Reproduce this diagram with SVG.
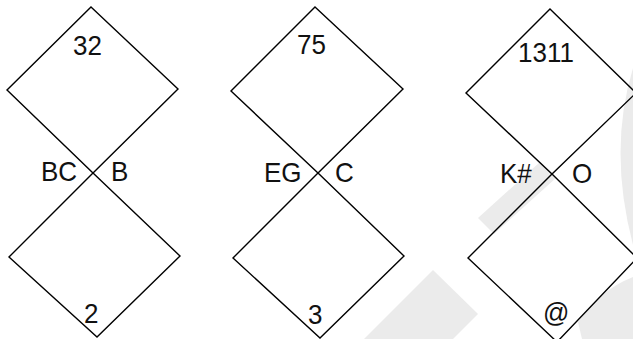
<svg xmlns="http://www.w3.org/2000/svg" width="633" height="339" viewBox="0 0 633 339">
<style>
.d{fill:none;stroke:#000;stroke-width:1.4;stroke-linejoin:miter}
.t{font-family:"Liberation Sans",Arial,sans-serif;font-size:26px;fill:#111}
.w{fill:#ebebeb}
</style>
<rect width="633" height="339" fill="#fff"/>
<g id="watermark">
<polygon class="w" points="478,218 540,162 556,178 494,234"/>
<polygon class="w" points="364,339 433,270 478,314 453,339"/>
<path class="w" d="M633,68 Q608,150 633,245 Z"/>
<path class="w" d="M582,339 L578,322 Q600,290 633,277 L633,339 Z"/>
</g>
<g id="connectors"></g>
<g id="fig1">
<polygon class="d" points="91,7 178,89 93,173 7,90"/>
<polygon class="d" points="93,173 180,256 97,337 9,257"/>
<text class="t" transform="translate(73,55) scale(1,1.06)">32</text>
<text class="t" transform="translate(41,181) scale(1,1.06)">BC</text>
<text class="t" transform="translate(111,181) scale(1,1.06)">B</text>
<text class="t" transform="translate(84,323) scale(1,1.06)">2</text>
</g>
<g id="fig2">
<polygon class="d" points="315,7 403,89 318,173 231,91"/>
<polygon class="d" points="318,173 404,256 320,338 233,258"/>
<text class="t" transform="translate(297,54) scale(1,1.06)">75</text>
<text class="t" transform="translate(264,182) scale(1,1.06)">EG</text>
<text class="t" transform="translate(335,182) scale(1,1.06)">C</text>
<text class="t" transform="translate(308,324) scale(1,1.06)">3</text>
</g>
<g id="fig3">
<polygon class="d" points="550,9 636,93 552,174 466,93"/>
<polygon class="d" points="552,174 637,258 557,342 468,258"/>
<text class="t" transform="translate(518,62) scale(1,1.06)">1311</text>
<text class="t" transform="translate(500,183) scale(1,1.06)">K#</text>
<text class="t" transform="translate(572,183) scale(1,1.06)">O</text>
<text class="t" transform="translate(543,322) scale(1,1.06)">@</text>
</g>
</svg>
